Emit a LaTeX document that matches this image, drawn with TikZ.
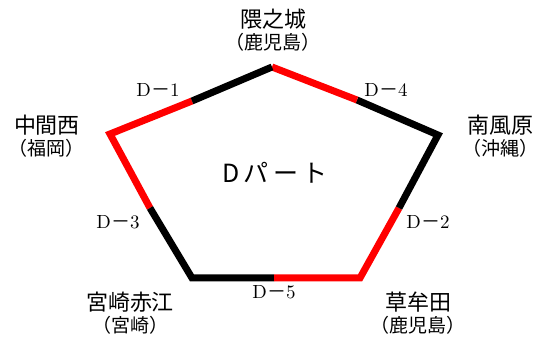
\documentclass[tikz,border=0pt]{standalone}
\usepackage{fontspec}
\usepackage{tikz}
\usetikzlibrary{positioning}
\newfontfamily\jpfont{Noto Sans CJK JP}

\begin{document}
\begin{tikzpicture}[
        x=0.5pt, y=-0.5pt,
        seg/.style={line width=3.5pt},
        blk/.style={seg, black},
        rd/.style={seg, red},
        place/.style={font=\jpfont\fontsize{11}{13}\selectfont, inner sep=0pt},
        pref/.style={font=\jpfont\fontsize{9.5}{11}\selectfont, inner sep=0pt},
        tag/.style={font=\fontsize{9.5}{11}\selectfont, inner sep=0pt}
    ]
        \useasboundingbox (0,0) rectangle (542,342);

        % Corners
        \coordinate (top) at (272,67);
        \coordinate (left) at (110,134);
        \coordinate (right) at (438,135);
        \coordinate (botleft) at (192,278);
        \coordinate (botright) at (360,278);

        % Splits
        \coordinate (split1) at (192,101);
        \coordinate (split4) at (357,100);
        \coordinate (split3) at (150,208);
        \coordinate (split2) at (399,208);
        \coordinate (split5) at (274,278);

        % Lines
        \draw[rd] (split1) -- (left) -- (split3);
        \draw[blk] (split3) -- (botleft) -- (split5);
        \draw[rd] (split5) -- (botright) -- (split2);
        \draw[blk] (split2) -- (right) -- (split4);
        \draw[rd] (split4) -- (top);
        \draw[blk] (top) -- (split1);

        % Section tags
        \node[tag] (d1) at (158,90) {D{\jpfont －}1};
        \node[tag] (d4) at (386,90) {D{\jpfont －}4};
        \node[tag] (d3) at (118,222) {D{\jpfont －}3};
        \node[tag] (d2) at (428,222) {D{\jpfont －}2};
        \node[tag] (d5) at (274,292) {D{\jpfont －}5};

        % Stations
        \node[place] (kumanojo) at (273,19) {隈之城};
        \node[pref, below=1.5pt of kumanojo] (kumanojoP) {（鹿児島）};
        \node[place] (nakamanishi) at (47,125) {中間西};
        \node[pref, below=1.5pt of nakamanishi] (nakamanishiP) {（福岡）};
        \node[place] (haebaru) at (500,125) {南風原};
        \node[pref, below=1.5pt of haebaru] (haebaruP) {（沖縄）};
        \node[place] (miyazaki) at (130,302) {宮崎赤江};
        \node[pref, below=1.5pt of miyazaki] (miyazakiP) {（宮崎）};
        \node[place] (somuta) at (418,302) {草牟田};
        \node[pref, below=1.5pt of somuta] (somutaP) {（鹿児島）};

        % Title
        \node[font=\jpfont\fontsize{12.5}{15}\selectfont] (part) at (275,173) {D\,パ\,ー\,ト};
    \end{tikzpicture}
\end{document}
